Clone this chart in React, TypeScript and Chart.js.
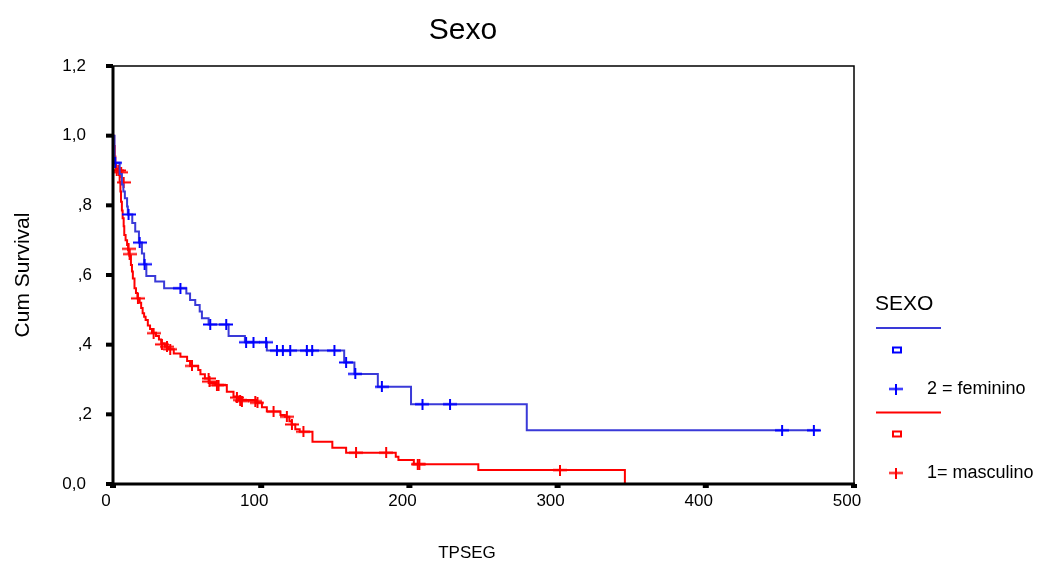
import React, { useEffect, useRef } from "react";
import { Chart, registerables } from "chart.js";

Chart.register(...registerables);

const titleText = "Sexo";
const xAxisTitle = "TPSEG";
const yAxisTitle = "Cum Survival";
const legendTitle = "SEXO";
const femLabel = "2 = feminino";
const mascLabel = "1= masculino";

const yTickValues = [0, 0.2, 0.4, 0.6, 0.8, 1.0, 1.2];
const yTickLabels = ["0,0", ",2", ",4", ",6", ",8", "1,0", "1,2"];
const xTickValues = [0, 100, 200, 300, 400, 500];

// 2 = feminino : step points (time, cumulative survival)
const femTimes = [0, 1, 4.5, 6, 7, 8, 9.5, 10, 13, 15, 17.5, 19.5, 21, 22.5, 28.5, 34.5, 49.5, 52, 55.5, 58.5, 60, 64.5, 78, 89, 103.8, 156, 162.9, 178.7, 201.1, 279.2, 477];
const femSurv = [1, 0.922, 0.89, 0.86, 0.84, 0.82, 0.797, 0.774, 0.749, 0.725, 0.693, 0.662, 0.631, 0.597, 0.581, 0.562, 0.547, 0.528, 0.514, 0.495, 0.476, 0.458, 0.425, 0.407, 0.383, 0.349, 0.316, 0.279, 0.229, 0.154, 0.154];
// censored
const femCensTimes = [1.5, 10.5, 18, 21.3, 45.5, 65.6, 76.4, 89.8, 94.8, 103.3, 110.6, 114.6, 119.6, 130.8, 134.4, 149.4, 157.3, 163.5, 181.4, 208.8, 227.4, 451.5, 472.9];
const femCensSurv = [0.922, 0.774, 0.693, 0.631, 0.562, 0.458, 0.458, 0.407, 0.407, 0.407, 0.383, 0.383, 0.383, 0.383, 0.383, 0.383, 0.349, 0.316, 0.279, 0.229, 0.229, 0.154, 0.154];

// 1 = masculino
const mascTimes = [0, 0.8, 1.2, 1.6, 2, 4, 4.5, 5, 5.4, 6, 6.5, 7.2, 7.6, 8.5, 9.5, 10.2, 11, 12.1, 12.8, 13.4, 14.5, 15.5, 16.5, 18, 19, 20, 21, 22, 23.5, 25, 26.3, 29, 31, 32.5, 35, 37.5, 41, 45.5, 50, 52, 57.5, 59, 62, 65, 69, 76.8, 81.3, 85, 97, 100.5, 103.8, 113, 116, 119, 120.5, 123, 126, 134.6, 148, 157.3, 190.8, 192.6, 203, 246.5, 345.4];
const mascSurv = [1, 0.97, 0.94, 0.92, 0.905, 0.893, 0.866, 0.84, 0.81, 0.785, 0.763, 0.74, 0.715, 0.7, 0.686, 0.672, 0.655, 0.629, 0.61, 0.59, 0.562, 0.548, 0.533, 0.52, 0.505, 0.49, 0.48, 0.471, 0.455, 0.445, 0.434, 0.425, 0.415, 0.404, 0.394, 0.387, 0.375, 0.365, 0.353, 0.339, 0.327, 0.315, 0.303, 0.29, 0.284, 0.265, 0.251, 0.241, 0.233, 0.22, 0.208, 0.198, 0.193, 0.18, 0.171, 0.157, 0.15, 0.121, 0.104, 0.09, 0.078, 0.069, 0.057, 0.04, 0];
const mascCensTimes = [2.5, 4, 5.5, 7.2, 10.5, 11.2, 16.8, 27.4, 33, 36.4, 38.6, 53.3, 64.5, 65.1, 70.1, 71.2, 83.6, 85.8, 87, 96, 97.5, 108.3, 117.3, 120.7, 128.5, 164, 184.3, 205.6, 206.7, 301.6];
const mascCensSurv = [0.9, 0.9, 0.895, 0.866, 0.675, 0.66, 0.533, 0.433, 0.401, 0.394, 0.387, 0.339, 0.303, 0.294, 0.284, 0.284, 0.248, 0.241, 0.238, 0.238, 0.233, 0.208, 0.193, 0.171, 0.15, 0.09, 0.09, 0.057, 0.057, 0.04];

const FEM_LINE = "#3a3ad8";
const FEM_MARK = "#0000ff";
const MASC_LINE = "#ff0000";
const MASC_MARK = "#ff0000";
const FONT = '"Liberation Sans", Arial, sans-serif';

const pts = (xs: number[], ys: number[]) => xs.map((x, i) => ({ x, y: ys[i] }));

function makePlus(color: string) {
  const c = document.createElement("canvas");
  c.width = 14;
  c.height = 11;
  const g = c.getContext("2d")!;
  g.fillStyle = color;
  g.fillRect(0, 4.5, 14, 2);
  g.fillRect(6, 0, 2, 11);
  return c;
}

export default function App() {
  const ref = useRef<HTMLCanvasElement | null>(null);

  useEffect(() => {
    if (!ref.current) return;
    const femPlus = makePlus(FEM_MARK);
    const mascPlus = makePlus(MASC_MARK);

    const decor = {
      id: "decor",
      afterDraw(chart: any) {
        const { ctx, chartArea: a, scales } = chart;
        const xs = scales.x;
        const ys = scales.y;
        ctx.save();
        ctx.strokeStyle = "#000";
        ctx.fillStyle = "#000";
        // frame
        ctx.lineWidth = 1.5;
        ctx.strokeRect(a.left, a.top, a.right - a.left, a.bottom - a.top);
        ctx.lineWidth = 3;
        ctx.beginPath();
        ctx.moveTo(a.left, a.top);
        ctx.lineTo(a.left, a.bottom + 1.5);
        ctx.moveTo(a.left - 1.5, a.bottom);
        ctx.lineTo(a.right + 1, a.bottom);
        ctx.stroke();
        // ticks
        yTickValues.forEach((v) => {
          const y = ys.getPixelForValue(v);
          ctx.fillRect(a.left - 7, y - 2, 7, 4);
        });
        xTickValues.forEach((v) => {
          const x = xs.getPixelForValue(v);
          ctx.fillRect(x - 3, a.bottom, 6, 4);
        });
        // y tick labels
        ctx.font = `17px ${FONT}`;
        ctx.textAlign = "right";
        ctx.textBaseline = "middle";
        yTickValues.forEach((v, i) => {
          const lab = yTickLabels[i];
          const y = ys.getPixelForValue(v);
          const xr = lab.startsWith(",") ? a.left - 21 : a.left - 27;
          ctx.fillText(lab, xr, y);
        });
        // title
        ctx.textAlign = "center";
        ctx.font = `30px ${FONT}`;
        ctx.fillText(titleText, 463, 31);
        // x title
        ctx.font = `17px ${FONT}`;
        ctx.fillText(xAxisTitle, 467, 553);
        // y title
        ctx.save();
        ctx.translate(23, 275);
        ctx.rotate(-Math.PI / 2);
        ctx.font = `21px ${FONT}`;
        ctx.fillText(yAxisTitle, 0, 0);
        ctx.restore();
        // legend
        ctx.textAlign = "left";
        ctx.font = `21px ${FONT}`;
        ctx.fillText(legendTitle, 875, 304);
        ctx.lineWidth = 2;
        ctx.strokeStyle = FEM_LINE;
        ctx.beginPath();
        ctx.moveTo(876, 328);
        ctx.lineTo(941, 328);
        ctx.stroke();
        ctx.strokeStyle = FEM_MARK;
        ctx.strokeRect(893, 347.5, 8, 5);
        ctx.drawImage(femPlus, 889, 383.5);
        ctx.fillStyle = "#000";
        ctx.font = `18px ${FONT}`;
        ctx.fillText(femLabel, 927, 389);
        ctx.strokeStyle = MASC_LINE;
        ctx.beginPath();
        ctx.moveTo(876, 412.5);
        ctx.lineTo(941, 412.5);
        ctx.stroke();
        ctx.strokeStyle = MASC_MARK;
        ctx.strokeRect(893, 431.5, 8, 5);
        ctx.drawImage(mascPlus, 889, 467.5);
        ctx.fillStyle = "#000";
        ctx.fillText(mascLabel, 927, 473);
        ctx.restore();
      },
    };

    const chart = new Chart(ref.current, {
      type: "line",
      data: {
        datasets: [
          {
            label: femLabel + " censored",
            data: pts(femCensTimes, femCensSurv),
            showLine: false,
            pointStyle: femPlus as any,
            pointRadius: 7,
          },
          {
            label: femLabel,
            data: pts(femTimes, femSurv),
            stepped: "before",
            borderColor: FEM_LINE,
            borderWidth: 2,
            pointRadius: 0,
            fill: false,
          },
          {
            label: mascLabel + " censored",
            data: pts(mascCensTimes, mascCensSurv),
            showLine: false,
            pointStyle: mascPlus as any,
            pointRadius: 7,
          },
          {
            label: mascLabel,
            data: pts(mascTimes, mascSurv),
            stepped: "before",
            borderColor: MASC_LINE,
            borderWidth: 2,
            pointRadius: 0,
            fill: false,
          },
        ],
      },
      options: {
        animation: false,
        responsive: false,
        devicePixelRatio: 1,
        layout: { padding: { left: 0, top: 66, right: 185, bottom: 0 } },
        plugins: {
          legend: { display: false },
          title: { display: false },
          tooltip: { enabled: false },
        },
        scales: {
          x: {
            type: "linear",
            min: 0,
            max: 500,
            afterFit: (s: any) => {
              s.height = 81;
            },
            grid: { display: false, drawTicks: false },
            border: { display: false },
            ticks: {
              stepSize: 100,
              labelOffset: -7,
              padding: 7,
              color: "#000",
              font: { family: FONT, size: 17 },
            },
          },
          y: {
            type: "linear",
            min: 0,
            max: 1.2,
            afterFit: (s: any) => {
              s.width = 113;
            },
            grid: { display: false, drawTicks: false },
            border: { display: false },
            ticks: { display: false, stepSize: 0.2 },
          },
        },
      },
      plugins: [decor],
    });
    return () => chart.destroy();
  }, []);

  return (
    <div style={{ position: "absolute", left: 0, top: 0, width: 1039, height: 565, background: "#fff" }}>
      <canvas ref={ref} width={1039} height={565} style={{ display: "block" }} />
    </div>
  );
}
